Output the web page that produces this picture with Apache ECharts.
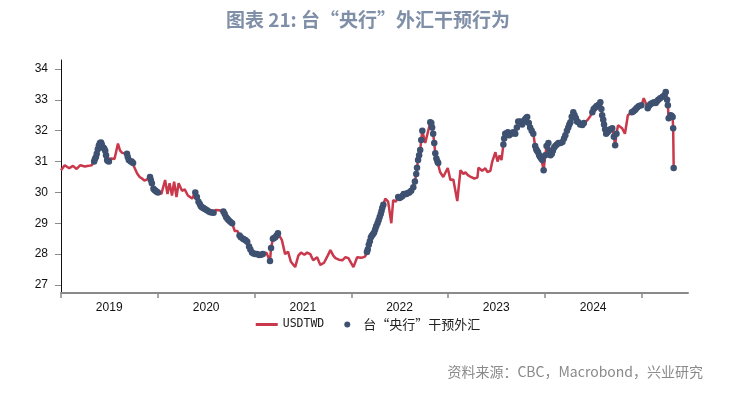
<!DOCTYPE html>
<html>
<head>
<meta charset="utf-8">
<script src="https://cdn.jsdelivr.net/npm/echarts@6/dist/echarts.min.js"></script>
<style>
html,body{margin:0;padding:0;background:#fff;}
#chart{width:736px;height:393px;}
</style>
</head>
<body>
<div id="chart"></div>
<script>
// ---- Data ----
const dates = [
  '2019-01-01','2019-01-15','2019-02-01','2019-02-15','2019-03-01','2019-03-15','2019-04-01','2019-04-15','2019-04-27',
  '2019-05-06','2019-05-13','2019-05-20','2019-05-28','2019-06-04','2019-06-10','2019-06-17','2019-06-24','2019-07-01',
  '2019-07-10','2019-07-22','2019-08-04','2019-08-12','2019-08-20','2019-09-07','2019-09-14','2019-09-21','2019-09-30',
  '2019-10-15','2019-10-25','2019-11-03','2019-11-12','2019-11-22','2019-12-03','2019-12-10','2019-12-16','2019-12-24',
  '2020-01-02','2020-01-15','2020-01-29','2020-02-07','2020-02-15','2020-02-24','2020-03-03','2020-03-12','2020-03-20',
  '2020-04-02','2020-04-12','2020-04-24','2020-05-10','2020-05-22','2020-06-03','2020-06-12','2020-06-20','2020-06-29',
  '2020-07-12','2020-07-25','2020-08-07','2020-08-20','2020-09-05','2020-09-15','2020-09-25','2020-10-08','2020-10-18',
  '2020-10-28','2020-11-05','2020-11-18','2020-11-28','2020-12-11','2020-12-22',
  '2021-01-03','2021-01-18','2021-02-01','2021-02-14','2021-02-28','2021-03-11','2021-03-20','2021-03-30','2021-04-14',
  '2021-04-26','2021-05-07','2021-05-18','2021-06-03','2021-06-15','2021-06-25','2021-07-08','2021-07-18','2021-07-30',
  '2021-08-10','2021-08-25','2021-09-06','2021-09-20','2021-10-01','2021-10-14','2021-10-25','2021-11-02','2021-11-15',
  '2021-11-28','2021-12-10','2021-12-21',
  '2022-01-09','2022-01-23','2022-02-08','2022-02-22','2022-03-01','2022-03-08','2022-03-16','2022-03-24','2022-04-01',
  '2022-04-10','2022-04-18','2022-04-25','2022-05-02','2022-05-09','2022-05-20','2022-06-01','2022-06-08','2022-06-18',
  '2022-06-27','2022-07-08','2022-07-18','2022-07-28','2022-08-08','2022-08-23','2022-09-03','2022-09-10','2022-09-18',
  '2022-09-26','2022-10-07','2022-10-17','2022-10-26','2022-11-06','2022-11-14','2022-11-25','2022-12-02','2022-12-14',
  '2022-12-31',
  '2023-01-10','2023-01-21','2023-02-05','2023-02-17','2023-02-28','2023-03-08','2023-03-17','2023-03-28','2023-04-10',
  '2023-04-22','2023-04-26','2023-05-10','2023-05-22','2023-05-30','2023-06-10','2023-06-17','2023-06-29','2023-07-07',
  '2023-07-15','2023-07-22','2023-07-29','2023-08-05','2023-08-15','2023-08-28','2023-09-12','2023-09-23','2023-10-08',
  '2023-10-18','2023-10-27','2023-11-07','2023-11-19','2023-11-26','2023-12-07','2023-12-15','2023-12-23','2023-12-28',
  '2024-01-08','2024-01-15','2024-01-23','2024-02-01','2024-02-10','2024-02-22','2024-03-08','2024-03-19','2024-03-30',
  '2024-04-07','2024-04-18','2024-04-28','2024-05-07','2024-05-22','2024-06-10','2024-06-20','2024-06-29','2024-07-10',
  '2024-07-21','2024-07-29','2024-08-05','2024-08-12','2024-08-20','2024-08-30','2024-09-12','2024-09-23','2024-10-04',
  '2024-10-19','2024-10-30','2024-11-10','2024-11-25','2024-12-06','2024-12-15','2024-12-31',
  '2025-01-09','2025-01-24','2025-02-02','2025-02-12','2025-02-23','2025-03-05','2025-03-21','2025-04-02','2025-04-10',
  '2025-04-13','2025-04-20','2025-04-28','2025-04-30','2025-05-02'
];
const usdtwd = [
  30.72,30.88,30.78,30.86,30.76,30.88,30.84,30.86,30.88,
  31.00,31.15,31.40,31.60,31.55,31.45,31.35,31.05,31.00,
  31.10,31.08,31.58,31.35,31.28,31.25,31.05,31.00,30.95,
  30.62,30.50,30.45,30.38,30.42,30.50,30.30,30.12,30.05,
  30.00,29.95,30.40,29.95,30.30,29.90,30.35,29.85,30.30,
  30.05,30.10,29.90,29.80,30.00,29.70,29.55,29.50,29.45,
  29.38,29.35,29.43,29.42,29.38,29.20,29.10,29.00,28.75,
  28.75,28.60,28.50,28.45,28.25,28.05,
  28.00,27.97,28.00,28.05,27.78,28.50,28.55,28.68,28.45,
  28.00,28.08,27.75,27.58,27.95,28.05,27.98,28.05,28.00,
  27.80,27.90,27.65,27.72,27.90,28.13,27.95,27.87,27.82,
  27.80,27.90,27.87,
  27.58,27.90,27.88,27.92,28.07,28.30,28.55,28.65,28.80,
  29.00,29.20,29.40,29.60,29.80,29.70,29.00,29.75,29.70,
  29.85,29.85,29.95,29.95,30.00,30.17,30.60,31.05,31.37,
  32.00,31.60,31.95,32.27,31.90,31.27,30.95,30.66,30.50,
  30.79,
  30.40,30.42,29.72,30.72,30.60,30.65,30.56,30.50,30.45,
  30.48,30.80,30.70,30.78,30.66,30.70,31.00,31.30,31.00,
  31.20,31.05,31.55,31.90,31.95,31.90,31.90,32.30,32.20,
  32.35,32.44,32.10,31.90,31.50,31.30,31.15,31.05,30.72,
  31.50,31.60,31.20,31.35,31.50,31.60,31.63,31.85,32.10,
  32.27,32.60,32.40,32.27,32.18,32.34,32.45,32.60,32.75,
  32.82,32.92,32.50,32.20,31.90,32.00,32.08,31.53,32.18,
  32.08,31.90,32.50,32.60,32.66,32.75,32.82,
  33.05,32.73,32.85,32.90,32.90,33.00,33.10,33.25,32.82,
  32.40,32.50,32.44,32.08,30.79
];
// further readings taken where the reference is densely dotted
const extraDates = [
  '2019-05-09','2019-05-16','2019-05-24','2019-06-01','2019-06-13','2019-06-20','2019-06-27',
  '2019-09-10','2019-09-25','2019-12-06','2019-12-20','2019-12-28',
  '2020-05-28','2020-06-08','2020-06-16','2020-06-24','2020-07-05','2020-07-18','2020-07-30',
  '2020-09-10','2020-09-20','2020-10-01','2020-11-10','2020-11-23','2020-12-04','2020-12-16','2020-12-28',
  '2021-01-10','2021-01-25','2021-03-04','2021-03-15','2021-03-25',
  '2022-03-04','2022-03-12','2022-03-20','2022-03-28','2022-04-05','2022-04-14','2022-04-22','2022-04-28',
  '2022-07-02','2022-07-13','2022-07-23','2022-08-02','2022-08-15','2022-08-29','2022-09-06','2022-09-14','2022-09-22',
  '2022-10-30','2022-11-02','2022-11-10','2022-11-18','2022-11-22',
  '2023-08-01','2023-08-10','2023-08-20','2023-09-04','2023-09-18','2023-10-02','2023-10-13','2023-10-22',
  '2023-11-02','2023-11-13','2023-11-30','2023-12-03','2023-12-11','2023-12-19',
  '2024-01-03','2024-01-19','2024-01-28','2024-02-05','2024-02-16','2024-03-01','2024-03-14','2024-03-25',
  '2024-04-03','2024-04-12','2024-04-23','2024-05-02','2024-05-14','2024-05-28',
  '2024-07-04','2024-07-15','2024-07-25','2024-08-02','2024-08-09','2024-08-16','2024-08-25','2024-09-05',
  '2024-09-18','2024-09-28','2024-11-30','2024-12-10','2024-12-22',
  '2025-01-28','2025-02-07','2025-02-17','2025-02-28','2025-03-12','2025-03-28','2025-04-07','2025-04-24'
];
const extraRates = [
  31.08,31.25,31.52,31.62,31.42,31.20,31.02,
  31.15,31.00,30.40,30.08,30.02,
  29.85,29.62,29.52,29.48,29.42,29.36,29.34,
  29.30,29.15,29.05,28.55,28.47,28.40,28.15,28.02,
  28.00,27.98,28.20,28.52,28.60,
  28.15,28.42,28.60,28.70,28.90,29.10,29.30,29.50,
  29.82,29.88,29.95,29.98,30.05,30.35,30.80,31.20,31.70,
  32.25,32.10,31.60,31.10,31.00,
  31.75,31.92,31.85,31.95,32.10,32.30,32.28,32.40,
  32.25,32.00,31.40,31.35,31.20,31.10,
  31.20,31.35,31.25,31.45,31.55,31.60,31.75,32.00,
  32.20,32.45,32.50,32.30,32.20,32.25,
  32.70,32.80,32.85,32.70,32.35,32.05,31.95,32.05,
  31.80,31.90,32.62,32.70,32.80,
  32.80,32.88,32.92,32.95,33.05,33.15,33.00,32.48
];
// periods in which the central bank intervened (blue dots)
const interventionPeriods = [
  ['2019-05-01','2019-07-05'],['2019-09-05','2019-10-02'],['2019-12-01','2020-01-05'],
  ['2020-05-20','2020-07-31'],['2020-09-03','2020-10-10'],['2020-11-01','2021-02-03'],
  ['2021-02-25','2021-04-02'],['2022-02-28','2022-05-03'],['2022-06-25','2022-09-30'],
  ['2022-10-24','2022-11-30'],['2023-07-27','2024-06-01'],['2024-06-25','2024-09-30'],
  ['2024-11-20','2025-01-05'],['2025-01-20','2025-05-10']
];
const yTicks = [27,28,29,30,31,32,33,34];
const yearTicks = ['2019','2020','2021','2022','2023','2024','2025'];
const yearLabels = ['2019','2020','2021','2022','2023','2024'];
const seriesNames = ['USDTWD','台“央行”干预外汇'];

// ---- Build ----
const t = d => Date.parse(d + 'T00:00:00Z');
const lineData = dates.map((d,i) => [t(d), usdtwd[i]])
  .concat(extraDates.map((d,i) => [t(d), extraRates[i]]))
  .sort((a,b) => a[0] - b[0]);
const inPeriod = ts => interventionPeriods.some(p => ts >= t(p[0]) && ts <= t(p[1]));
const dotData = lineData.filter(p => inPeriod(p[0]));
const tickVals = yearTicks.map(y => t(y + '-01-01'));
const labelVals = yearLabels.map(y => t(y + '-07-02'));

const chart = echarts.init(document.getElementById('chart'), null, {renderer:'canvas'});
chart.setOption({
  backgroundColor:'#ffffff',
  animation:false,
  title:{
    text:'图表 21: 台“央行”外汇干预行为',
    left:'center', top:5,
    textStyle:{fontFamily:'Noto Sans CJK SC', fontSize:19, fontWeight:'bold', color:'#7F8FA7'}
  },
  grid:{left:61, right:48, top:60, bottom:100, containLabel:false},
  legend:{
    top:313, left:'center', itemGap:20, itemWidth:22, itemHeight:6,
    formatter: n => n === seriesNames[0] ? '{a|' + n + '}' : '{b|' + n + '}',
    textStyle:{
      color:'#222',
      rich:{
        a:{fontFamily:'DejaVu Sans Mono', fontSize:11.5, color:'#222'},
        b:{fontFamily:'Noto Sans CJK SC', fontSize:13, color:'#222'}
      }
    },
    data:[
      {name:seriesNames[0], icon:'path://M0,0 L22,0 L22,3 L0,3 Z', itemStyle:{color:'#C9384B'}},
      {name:seriesNames[1], icon:'circle'}
    ]
  },
  xAxis:{
    type:'value',
    min:t('2019-01-01'), max:t('2025-06-25'),
    axisLine:{show:true, onZero:false, lineStyle:{color:'#8a8a8a', width:2}},
    axisTick:{show:true, customValues:tickVals, length:5, lineStyle:{color:'#8a8a8a', width:1.5}},
    axisLabel:{customValues:labelVals, margin:9, fontFamily:'Liberation Sans', fontSize:12, color:'#111',
      formatter:v => String(new Date(v).getUTCFullYear())},
    splitLine:{show:false}
  },
  yAxis:{
    type:'value', min:26.74, max:34.29,
    axisLine:{show:true, lineStyle:{color:'#111', width:1}},
    axisTick:{show:true, customValues:yTicks, length:6, lineStyle:{color:'#8a8a8a'}},
    axisLabel:{customValues:yTicks, margin:13, fontFamily:'Liberation Sans', fontSize:12, color:'#111'},
    splitLine:{show:false}
  },
  series:[
    {name:seriesNames[0], type:'line', data:lineData, showSymbol:false, symbol:'none',
     lineStyle:{color:'#C9384B', width:2.5}, itemStyle:{color:'#C9384B'}, z:2},
    {name:seriesNames[1], type:'scatter', data:dotData, symbolSize:6.5,
     itemStyle:{color:'#3E5171', opacity:1}, z:3}
  ],
  graphic:[{
    type:'text', right:33, top:365,
    style:{text:'资料来源：CBC，Macrobond，兴业研究', fontFamily:'Noto Sans CJK SC', fontSize:14, fill:'#8a8a8a'}
  }]
});
</script>
</body>
</html>
